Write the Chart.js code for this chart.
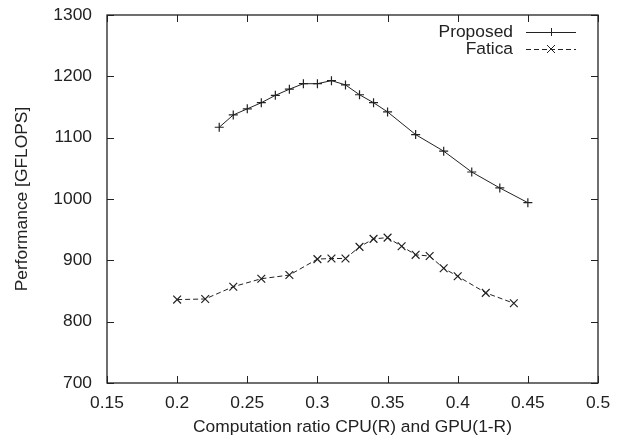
<!DOCTYPE html>
<html>
<head>
<meta charset="utf-8">
<script src="https://cdn.jsdelivr.net/npm/chart.js@4"></script>
<style>
  html, body { margin: 0; padding: 0; background: #fff; }
  #wrap { width: 623px; height: 438px; }
</style>
</head>
<body>
<div id="wrap"><canvas id="perfChart" width="623" height="438"></canvas></div>
<script>
// values
const proposedRatio = [0.23, 0.24, 0.25, 0.26, 0.27, 0.28, 0.29, 0.30, 0.31, 0.32, 0.33, 0.34, 0.35, 0.37, 0.39, 0.41, 0.43, 0.45];
const proposedGflops = [1117, 1137, 1147, 1157, 1169, 1179, 1188, 1188, 1193, 1186, 1170, 1157, 1142, 1105, 1078, 1044, 1018, 994];

const faticaRatio = [0.20, 0.22, 0.24, 0.26, 0.28, 0.30, 0.31, 0.32, 0.33, 0.34, 0.35, 0.36, 0.37, 0.38, 0.39, 0.40, 0.42, 0.44];
const faticaGflops = [836, 837, 857, 870, 876, 902, 903, 903, 922, 935, 937, 923, 909, 907, 887, 874, 847, 830];

const seriesNames = ['Proposed', 'Fatica'];

const FONT = "'Liberation Sans', Arial, Helvetica, sans-serif";
const FSIZE = 17.4;
const INK = '#222';

function toPoints(xs, ys) {
    return xs.map((x, i) => ({ x: x, y: ys[i] }));
}

// gnuplot style: box border, inward ticks mirrored on all sides
const frameTicks = {
    id: 'frameTicks',
    afterDraw(chart) {
        const ctx = chart.ctx;
        const a = chart.chartArea;
        const len = 7;
        ctx.save();
        ctx.strokeStyle = INK;
        ctx.lineWidth = 1;
        ctx.beginPath();
        chart.scales.x.ticks.forEach(t => {
            const px = Math.round(chart.scales.x.getPixelForValue(t.value)) + 0.5;
            ctx.moveTo(px, a.bottom);
            ctx.lineTo(px, a.bottom - len);
            ctx.moveTo(px, a.top);
            ctx.lineTo(px, a.top + len);
        });
        chart.scales.y.ticks.forEach(t => {
            const py = Math.round(chart.scales.y.getPixelForValue(t.value)) + 0.5;
            ctx.moveTo(a.left, py);
            ctx.lineTo(a.left + len, py);
            ctx.moveTo(a.right, py);
            ctx.lineTo(a.right - len, py);
        });
        ctx.stroke();
        ctx.lineWidth = 1.3;
        ctx.strokeRect(a.left, a.top, a.right - a.left, a.bottom - a.top);
        ctx.restore();
    }
};

// legend in the top right corner, text right aligned then a line sample
const keyBox = {
    id: 'keyBox',
    afterDraw(chart) {
        const ctx = chart.ctx;
        const textRight = 513;
        const x0 = 526, x1 = 576;
        const rows = [32, 49];
        ctx.save();
        ctx.font = FSIZE + 'px ' + FONT;
        ctx.fillStyle = INK;
        ctx.textAlign = 'right';
        ctx.textBaseline = 'middle';
        chart.data.datasets.forEach((ds, i) => {
            const y = rows[i];
            ctx.fillText(ds.label, textRight, y);
            ctx.strokeStyle = ds.borderColor;
            ctx.lineWidth = 1;
            ctx.setLineDash(ds.borderDash || []);
            ctx.beginPath();
            ctx.moveTo(x0, y + 0.5);
            ctx.lineTo(x1, y + 0.5);
            ctx.stroke();
            ctx.setLineDash([]);
            const mx = (x0 + x1) / 2, r = 4;
            ctx.beginPath();
            if (ds.pointStyle === 'cross') {
                ctx.moveTo(mx - r, y + 0.5); ctx.lineTo(mx + r, y + 0.5);
                ctx.moveTo(mx + 0.5, y - r); ctx.lineTo(mx + 0.5, y + r);
            } else {
                ctx.moveTo(mx - r, y - r); ctx.lineTo(mx + r, y + r);
                ctx.moveTo(mx - r, y + r); ctx.lineTo(mx + r, y - r);
            }
            ctx.stroke();
        });
        ctx.restore();
    }
};

new Chart(document.getElementById('perfChart'), {
    type: 'line',
    data: {
        datasets: [{
            label: seriesNames[0],
            data: toPoints(proposedRatio, proposedGflops),
            borderColor: INK,
            borderWidth: 1,
            pointStyle: 'cross',
            pointRadius: 4.5,
            pointBorderColor: INK,
            pointBorderWidth: 1.2,
            tension: 0
        }, {
            label: seriesNames[1],
            data: toPoints(faticaRatio, faticaGflops),
            borderColor: INK,
            borderWidth: 1,
            borderDash: [5, 3],
            pointStyle: 'crossRot',
            pointRadius: 5.5,
            pointBorderColor: INK,
            pointBorderWidth: 1.2,
            tension: 0
        }]
    },
    options: {
        responsive: false,
        animation: false,
        layout: { padding: { top: 15, right: 25, left: 0, bottom: 0 } },
        plugins: {
            legend: { display: false },
            tooltip: { enabled: false }
        },
        scales: {
            x: {
                type: 'linear',
                min: 0.15,
                max: 0.5,
                grid: { display: false, drawTicks: false },
                border: { display: false },
                ticks: {
                    stepSize: 0.05,
                    padding: 10,
                    maxRotation: 0,
                    color: INK,
                    font: { family: FONT, size: FSIZE },
                    callback: v => Number(v.toFixed(2)).toString()
                },
                title: {
                    display: true,
                    text: 'Computation ratio CPU(R) and GPU(1-R)',
                    color: INK,
                    font: { family: FONT, size: FSIZE },
                    padding: { top: 0, bottom: 0 }
                },
                afterFit(scale) {
                    scale.height = 55;
                    scale.paddingLeft = 0;
                    scale.paddingRight = 0;
                }
            },
            y: {
                min: 700,
                max: 1300,
                grid: { display: false, drawTicks: false },
                border: { display: false },
                ticks: {
                    stepSize: 100,
                    padding: 15,
                    color: INK,
                    font: { family: FONT, size: FSIZE },
                    callback: v => String(v)
                },
                title: {
                    display: true,
                    text: 'Performance [GFLOPS]',
                    color: INK,
                    font: { family: FONT, size: FSIZE },
                    padding: { top: 12, bottom: 0 }
                },
                afterFit(scale) {
                    scale.width = 107;
                    scale.paddingTop = 0;
                    scale.paddingBottom = 0;
                }
            }
        }
    },
    plugins: [frameTicks, keyBox]
});
</script>
</body>
</html>
